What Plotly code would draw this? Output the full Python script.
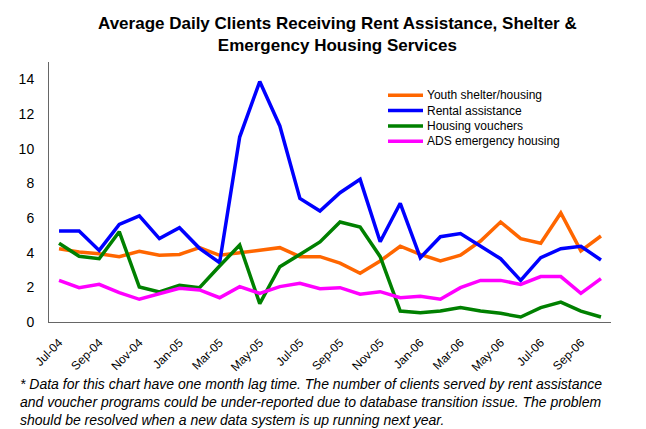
import plotly.graph_objects as go

months = ["Jul-04", "Aug-04", "Sep-04", "Oct-04", "Nov-04", "Dec-04",
          "Jan-05", "Feb-05", "Mar-05", "Apr-05", "May-05", "Jun-05",
          "Jul-05", "Aug-05", "Sep-05", "Oct-05", "Nov-05", "Dec-05",
          "Jan-06", "Feb-06", "Mar-06", "Apr-06", "May-06", "Jun-06",
          "Jul-06", "Aug-06", "Sep-06", "Oct-06"]

youth_shelter = [4.23, 4.04, 3.94, 3.77, 4.08, 3.85, 3.90, 4.29, 3.85, 4.00,
                 4.10, 4.29, 3.77, 3.77, 3.40, 2.81, 3.52, 4.37, 3.90, 3.52,
                 3.85, 4.67, 5.77, 4.81, 4.54, 6.29, 4.10, 4.96]
rental_assist = [5.25, 5.25, 4.13, 5.63, 6.12, 4.81, 5.44, 4.25, 3.42, 10.67,
                 13.87, 11.31, 7.13, 6.40, 7.46, 8.23, 4.63, 6.85, 3.71, 4.92,
                 5.10, 4.38, 3.65, 2.40, 3.71, 4.23, 4.37, 3.58]
vouchers = [4.54, 3.79, 3.65, 5.21, 2.02, 1.73, 2.12, 1.98, 3.23, 4.44,
            1.06, 3.19, 3.90, 4.62, 5.77, 5.48, 3.77, 0.63, 0.54, 0.63,
            0.83, 0.63, 0.50, 0.29, 0.83, 1.15, 0.63, 0.29]
ads_emergency = [2.40, 1.98, 2.17, 1.69, 1.31, 1.63, 1.94, 1.85, 1.40, 2.04,
                 1.65, 2.04, 2.23, 1.92, 1.98, 1.60, 1.75, 1.40, 1.48, 1.31,
                 1.98, 2.40, 2.40, 2.17, 2.62, 2.62, 1.65, 2.50]

series = [
    ("Youth shelter/housing", youth_shelter, "#FF6600"),
    ("Rental assistance", rental_assist, "#0000FF"),
    ("Housing vouchers", vouchers, "#008000"),
    ("ADS emergency housing", ads_emergency, "#FF00FF"),
]

font = "Liberation Sans, Arial, sans-serif"
W, H = 646, 429
L, R, T, B = 41, 43, 54, 115


# pixel -> paper coords (for title / legend / footnote placement)
def px_x(x):
    return (x - L) / (W - L - R)


def px_y(y):
    return (H - B - y) / (H - T - B)


fig = go.Figure()
for name, vals, col in series:
    fig.add_trace(go.Scatter(x=months, y=vals, name=name, mode="lines",
                             line=dict(color=col, width=3.5)))

fig.update_layout(
    width=W, height=H,
    margin=dict(l=L, r=R, t=T, b=B),
    paper_bgcolor="white", plot_bgcolor="white",
    font=dict(family=font, color="black"),
    showlegend=False,
)

fig.update_xaxes(
    type="category", range=[-0.5, len(months) - 0.5],
    tickmode="array", tickvals=months[::2], ticktext=months[::2],
    tickangle=-45, tickfont=dict(size=12),
    showline=True, linecolor="#666666", linewidth=1,
    showgrid=False, ticks="", ticklabelstandoff=8,
)
fig.update_yaxes(
    range=[0, 15], tickvals=list(range(0, 15, 2)), tickfont=dict(size=14),
    showline=True, linecolor="#666666", linewidth=1,
    showgrid=False, zeroline=False, ticks="", ticklabelstandoff=11,
)

# title
fig.add_annotation(
    text="<b>Average Daily Clients Receiving Rent Assistance, Shelter &<br>"
         "Emergency Housing Services</b>",
    xref="paper", yref="paper", x=px_x(329), y=px_y(4), xanchor="center", yanchor="top",
    showarrow=False, font=dict(size=17, family=font),
)

# legend drawn by hand to get Excel-like tight row spacing
for i, (name, vals, col) in enumerate(series):
    yy = px_y(87.3 + 15.3 * i)
    fig.add_shape(type="line", xref="paper", yref="paper",
                  x0=px_x(380), x1=px_x(415), y0=yy, y1=yy,
                  line=dict(color=col, width=3.5))
    fig.add_annotation(text=name, xref="paper", yref="paper", x=px_x(417), y=yy,
                       xanchor="left", yanchor="middle", showarrow=False,
                       font=dict(size=12, family=font))

# footnote
fig.add_annotation(
    text="* Data for this chart have one month lag time. The number of clients served by rent assistance<br>"
         "and voucher programs could be under-reported due to database transition issue. The problem<br>"
         "should be resolved when a new data system is up running next year.",
    xref="paper", yref="paper", x=px_x(10), y=px_y(366), xanchor="left", yanchor="top",
    align="left", showarrow=False, font=dict(size=14, family=font, style="italic"),
)

fig.write_html("out.html")
